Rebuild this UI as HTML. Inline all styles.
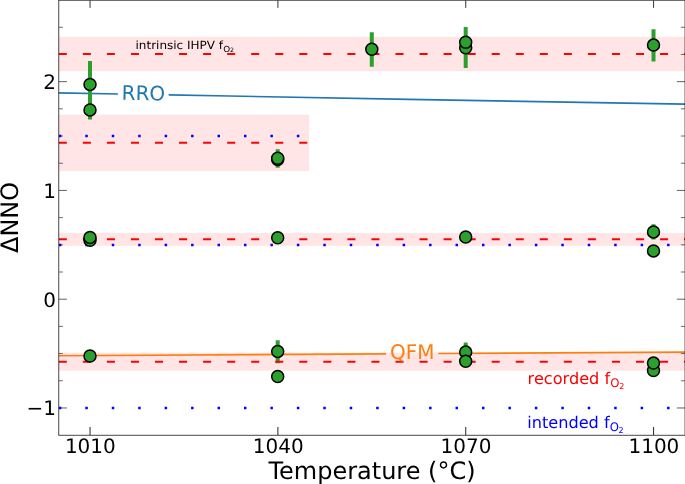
<!DOCTYPE html>
<html lang="en"><head><meta charset="utf-8"><title>ΔNNO vs Temperature</title>
<style>html,body{margin:0;padding:0;background:#fff}svg{display:block}text{font-family:"DejaVu Sans","Liberation Sans",sans-serif;text-rendering:geometricPrecision}</style>
</head><body>
<svg width="685" height="484" viewBox="0 0 685 484">
<rect width="685" height="484" fill="#fff"/>
<defs><clipPath id="ax"><rect x="58.74" y="0.3" width="626.31" height="434.88"/></clipPath></defs>
<g clip-path="url(#ax)">
<rect x="58.74" y="36.80" width="626.31" height="34.40" fill="#ffe5e5"/>
<rect x="58.74" y="114.60" width="250.26" height="56.50" fill="#ffe5e5"/>
<rect x="58.74" y="232.90" width="626.31" height="12.90" fill="#ffe5e5"/>
<rect x="58.74" y="352.60" width="626.31" height="18.10" fill="#ffe5e5"/>
<line x1="58.74" y1="81.64" x2="66.94" y2="81.64" stroke="#000" stroke-width="0.62"/>
<line x1="685.05" y1="81.64" x2="676.8499999999999" y2="81.64" stroke="#000" stroke-width="0.62"/>
<line x1="58.74" y1="190.42" x2="66.94" y2="190.42" stroke="#000" stroke-width="0.62"/>
<line x1="685.05" y1="190.42" x2="676.8499999999999" y2="190.42" stroke="#000" stroke-width="0.62"/>
<line x1="58.74" y1="299.20" x2="66.94" y2="299.20" stroke="#000" stroke-width="0.62"/>
<line x1="685.05" y1="299.20" x2="676.8499999999999" y2="299.20" stroke="#000" stroke-width="0.62"/>
<line x1="58.74" y1="407.98" x2="66.94" y2="407.98" stroke="#000" stroke-width="0.62"/>
<line x1="685.05" y1="407.98" x2="676.8499999999999" y2="407.98" stroke="#000" stroke-width="0.62"/>
<line x1="58.74" y1="380.78" x2="62.940000000000005" y2="380.78" stroke="#000" stroke-width="0.56"/>
<line x1="685.05" y1="380.78" x2="680.8499999999999" y2="380.78" stroke="#000" stroke-width="0.56"/>
<line x1="58.74" y1="353.59" x2="62.940000000000005" y2="353.59" stroke="#000" stroke-width="0.56"/>
<line x1="685.05" y1="353.59" x2="680.8499999999999" y2="353.59" stroke="#000" stroke-width="0.56"/>
<line x1="58.74" y1="326.39" x2="62.940000000000005" y2="326.39" stroke="#000" stroke-width="0.56"/>
<line x1="685.05" y1="326.39" x2="680.8499999999999" y2="326.39" stroke="#000" stroke-width="0.56"/>
<line x1="58.74" y1="272.00" x2="62.940000000000005" y2="272.00" stroke="#000" stroke-width="0.56"/>
<line x1="685.05" y1="272.00" x2="680.8499999999999" y2="272.00" stroke="#000" stroke-width="0.56"/>
<line x1="58.74" y1="244.81" x2="62.940000000000005" y2="244.81" stroke="#000" stroke-width="0.56"/>
<line x1="685.05" y1="244.81" x2="680.8499999999999" y2="244.81" stroke="#000" stroke-width="0.56"/>
<line x1="58.74" y1="217.61" x2="62.940000000000005" y2="217.61" stroke="#000" stroke-width="0.56"/>
<line x1="685.05" y1="217.61" x2="680.8499999999999" y2="217.61" stroke="#000" stroke-width="0.56"/>
<line x1="58.74" y1="163.22" x2="62.940000000000005" y2="163.22" stroke="#000" stroke-width="0.56"/>
<line x1="685.05" y1="163.22" x2="680.8499999999999" y2="163.22" stroke="#000" stroke-width="0.56"/>
<line x1="58.74" y1="136.03" x2="62.940000000000005" y2="136.03" stroke="#000" stroke-width="0.56"/>
<line x1="685.05" y1="136.03" x2="680.8499999999999" y2="136.03" stroke="#000" stroke-width="0.56"/>
<line x1="58.74" y1="108.83" x2="62.940000000000005" y2="108.83" stroke="#000" stroke-width="0.56"/>
<line x1="685.05" y1="108.83" x2="680.8499999999999" y2="108.83" stroke="#000" stroke-width="0.56"/>
<line x1="58.74" y1="54.44" x2="62.940000000000005" y2="54.44" stroke="#000" stroke-width="0.56"/>
<line x1="685.05" y1="54.44" x2="680.8499999999999" y2="54.44" stroke="#000" stroke-width="0.56"/>
<line x1="58.74" y1="27.25" x2="62.940000000000005" y2="27.25" stroke="#000" stroke-width="0.56"/>
<line x1="685.05" y1="27.25" x2="680.8499999999999" y2="27.25" stroke="#000" stroke-width="0.56"/>
<line x1="90.05" y1="435.18" x2="90.05" y2="426.98" stroke="#000" stroke-width="0.85"/>
<line x1="90.05" y1="0.3" x2="90.05" y2="7.8999999999999995" stroke="#000" stroke-width="0.8"/>
<line x1="277.90" y1="435.18" x2="277.90" y2="426.98" stroke="#000" stroke-width="0.85"/>
<line x1="277.90" y1="0.3" x2="277.90" y2="7.8999999999999995" stroke="#000" stroke-width="0.8"/>
<line x1="465.74" y1="435.18" x2="465.74" y2="426.98" stroke="#000" stroke-width="0.85"/>
<line x1="465.74" y1="0.3" x2="465.74" y2="7.8999999999999995" stroke="#000" stroke-width="0.8"/>
<line x1="653.59" y1="435.18" x2="653.59" y2="426.98" stroke="#000" stroke-width="0.85"/>
<line x1="653.59" y1="0.3" x2="653.59" y2="7.8999999999999995" stroke="#000" stroke-width="0.8"/>
<line x1="58.85" y1="136.00" x2="309.00" y2="136.00" stroke="#0000ff" stroke-width="2.5" stroke-dasharray="2.5 23.945"/>
<line x1="58.85" y1="244.90" x2="685.05" y2="244.90" stroke="#0000ff" stroke-width="2.5" stroke-dasharray="2.5 23.945"/>
<line x1="58.85" y1="408.00" x2="685.05" y2="408.00" stroke="#0000ff" stroke-width="2.5" stroke-dasharray="2.5 23.945"/>
<polyline points="58.00,92.86 117.90,93.97" fill="none" stroke="#1f77b4" stroke-width="1.6"/>
<polyline points="168.70,94.91 229.00,96.02 409.00,99.42 686.00,104.12" fill="none" stroke="#1f77b4" stroke-width="1.6"/>
<polyline points="58.00,355.78 386.10,353.88" fill="none" stroke="#ff7f0e" stroke-width="1.6"/>
<polyline points="438.30,353.57 686.00,352.13" fill="none" stroke="#ff7f0e" stroke-width="1.6"/>
<line x1="90.00" y1="61.10" x2="90.00" y2="119.50" stroke="#2ca02c" stroke-width="4"/>
<line x1="277.70" y1="149.30" x2="277.70" y2="167.80" stroke="#2ca02c" stroke-width="4"/>
<line x1="371.80" y1="32.20" x2="371.80" y2="66.80" stroke="#2ca02c" stroke-width="4"/>
<line x1="465.70" y1="27.00" x2="465.70" y2="67.90" stroke="#2ca02c" stroke-width="4"/>
<line x1="653.50" y1="29.20" x2="653.50" y2="61.60" stroke="#2ca02c" stroke-width="4"/>
<line x1="653.50" y1="224.20" x2="653.50" y2="239.60" stroke="#2ca02c" stroke-width="4"/>
<line x1="277.70" y1="340.20" x2="277.70" y2="363.30" stroke="#2ca02c" stroke-width="4"/>
<line x1="465.70" y1="342.60" x2="465.70" y2="361.00" stroke="#2ca02c" stroke-width="4"/>
<line x1="58.80" y1="54.00" x2="686.05" y2="54.00" stroke="#f80404" stroke-width="2" stroke-dasharray="8.02 16.03"/>
<line x1="58.80" y1="142.80" x2="309.00" y2="142.80" stroke="#f80404" stroke-width="2" stroke-dasharray="8.02 16.03"/>
<line x1="58.80" y1="239.30" x2="686.05" y2="239.30" stroke="#f80404" stroke-width="2" stroke-dasharray="8.02 16.03"/>
<line x1="58.80" y1="361.80" x2="686.05" y2="361.80" stroke="#f80404" stroke-width="2" stroke-dasharray="8.02 16.03"/>
<circle cx="90.00" cy="109.90" r="6.0" fill="#2ca02c" stroke="#000" stroke-width="1.5"/>
<circle cx="90.00" cy="84.40" r="6.0" fill="#2ca02c" stroke="#000" stroke-width="1.5"/>
<circle cx="277.70" cy="159.60" r="6.0" fill="#2ca02c" stroke="#000" stroke-width="1.5"/>
<circle cx="277.70" cy="158.20" r="6.0" fill="#2ca02c" stroke="#000" stroke-width="1.5"/>
<circle cx="371.80" cy="49.20" r="6.0" fill="#2ca02c" stroke="#000" stroke-width="1.5"/>
<circle cx="465.70" cy="47.80" r="6.0" fill="#2ca02c" stroke="#000" stroke-width="1.5"/>
<circle cx="465.70" cy="42.20" r="6.0" fill="#2ca02c" stroke="#000" stroke-width="1.5"/>
<circle cx="653.50" cy="45.10" r="6.0" fill="#2ca02c" stroke="#000" stroke-width="1.5"/>
<circle cx="90.00" cy="240.20" r="6.0" fill="#2ca02c" stroke="#000" stroke-width="1.5"/>
<circle cx="90.00" cy="237.40" r="6.0" fill="#2ca02c" stroke="#000" stroke-width="1.5"/>
<circle cx="277.70" cy="237.70" r="6.0" fill="#2ca02c" stroke="#000" stroke-width="1.5"/>
<circle cx="465.70" cy="237.00" r="6.0" fill="#2ca02c" stroke="#000" stroke-width="1.5"/>
<circle cx="653.50" cy="250.90" r="6.0" fill="#2ca02c" stroke="#000" stroke-width="1.5"/>
<circle cx="653.50" cy="231.90" r="6.0" fill="#2ca02c" stroke="#000" stroke-width="1.5"/>
<circle cx="90.00" cy="356.00" r="6.0" fill="#2ca02c" stroke="#000" stroke-width="1.5"/>
<circle cx="277.70" cy="376.50" r="6.0" fill="#2ca02c" stroke="#000" stroke-width="1.5"/>
<circle cx="277.70" cy="351.40" r="6.0" fill="#2ca02c" stroke="#000" stroke-width="1.5"/>
<circle cx="465.70" cy="352.10" r="6.0" fill="#2ca02c" stroke="#000" stroke-width="1.5"/>
<circle cx="465.70" cy="361.20" r="6.0" fill="#2ca02c" stroke="#000" stroke-width="1.5"/>
<circle cx="653.50" cy="370.50" r="6.0" fill="#2ca02c" stroke="#000" stroke-width="1.5"/>
<circle cx="653.50" cy="363.10" r="6.0" fill="#2ca02c" stroke="#000" stroke-width="1.5"/>
</g>
<text x="143.4" y="100.2" font-size="20" fill="#1f77b4" text-anchor="middle" transform="rotate(1 143.6 93)">RRO</text>
<text x="412.2" y="359.0" font-size="20" fill="#ff7f0e" text-anchor="middle" transform="rotate(-0.3 412 352)">QFM</text>
<text transform="translate(135.5 49.2) scale(1 0.94)" font-size="12" fill="#000">intrinsic IHPV f<tspan font-size="8.8" dx="0.1" dy="2.6">O</tspan><tspan font-size="6.3" dx="0" dy="0.9">2</tspan></text>
<text transform="translate(527.6 384.4) scale(1 1)" font-size="16.15" fill="#ff0000">recorded f<tspan font-size="11.7" dx="0.1" dy="2.9">O</tspan><tspan font-size="8.0" dx="-0.3" dy="1.3">2</tspan></text>
<text transform="translate(527.2 427.6) scale(1 1)" font-size="16.15" fill="#0000ff">intended f<tspan font-size="11.7" dx="0.1" dy="3.65">O</tspan><tspan font-size="8.0" dx="-0.5" dy="1.85">2</tspan></text>
<path d="M58.74 0.3V435.18M685.05 0.3V435.18M58.38 0.3H685.4499999999999M58.38 435.3H685.4499999999999" fill="none" stroke="#000" stroke-width="0.72"/>
<text transform="translate(90.35 452.8) scale(1 1)" font-size="20" text-anchor="middle" fill="#000">1010</text>
<text transform="translate(278.20 452.8) scale(1 1)" font-size="20" text-anchor="middle" fill="#000">1040</text>
<text transform="translate(466.04 452.8) scale(1 1)" font-size="20" text-anchor="middle" fill="#000">1070</text>
<text transform="translate(653.89 452.8) scale(1 1)" font-size="20" text-anchor="middle" fill="#000">1100</text>
<text transform="translate(55.9 89.04) scale(1 1)" font-size="20" text-anchor="end" fill="#000">2</text>
<text transform="translate(55.9 197.82) scale(1 1)" font-size="20" text-anchor="end" fill="#000">1</text>
<text transform="translate(55.9 306.60) scale(1 1)" font-size="20" text-anchor="end" fill="#000">0</text>
<text transform="translate(55.9 415.38) scale(1 1)" font-size="20" text-anchor="end" fill="#000">−1</text>
<text x="372.0" y="479.2" font-size="24" text-anchor="middle" fill="#000">Temperature (°C)</text>
<text x="18.4" y="217.4" font-size="24" text-anchor="middle" fill="#000" transform="rotate(-90 18.4 217.4)">ΔNNO</text>
</svg>
</body></html>
